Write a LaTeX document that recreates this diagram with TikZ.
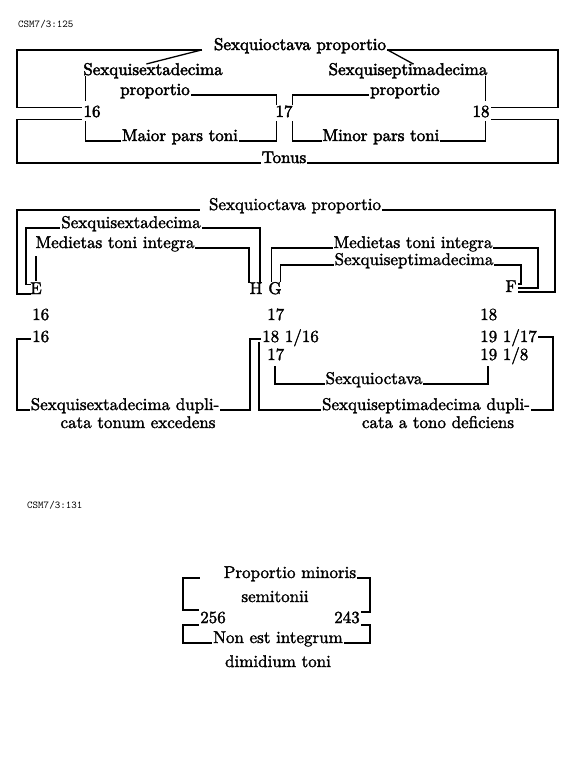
\documentclass[tikz,border=0pt]{standalone}
\usepackage{fontspec}
\newfontface\heavyA{lmroman10-regular.otf}[FakeBold=2.6]
\newfontface\heavyB{lmroman10-regular.otf}[FakeBold=1.8]
\usetikzlibrary{calc}
\tikzset{
  txt/.style={inner xsep=1.5pt, inner ysep=1pt, anchor=base, font=\heavyB\fontsize{17}{20}\selectfont},
  txta/.style={txt, font=\heavyA\fontsize{17}{20}\selectfont},
  num/.style={txt, anchor=base west},
  tag/.style={inner sep=0pt, anchor=base west, font=\ttfamily\fontsize{10.5}{12}\selectfont},
  ln/.style={line width=1.3pt, line cap=rect}
}
\begin{document}
\begin{tikzpicture}[x=1pt,y=-1pt]
\useasboundingbox (0,0) rectangle (584,776);
% column coordinates
\coordinate (xL) at (17,0);
\coordinate (xR) at (558,0);
\coordinate (xR2) at (555,0);
\coordinate (xM) at (538,0);
\coordinate (xI) at (521,0);
\coordinate (xL2) at (26,0);
\coordinate (xA) at (250,0);
\coordinate (xB) at (259,0);
\coordinate (xR3) at (553,0);
\coordinate (xL3) at (183,0);
\coordinate (xR4) at (370,0);

% ---------------- section 1 ----------------
\node[tag] (c1) at (18,28) {CSM7/3:125};
\node[txta] (soq) at (300,50) {Sexquioctava proportio};
\node[txta] (sd1) at (153,75) {Sexquisextadecima};
\node[txta] (pr1) at (155,95) {proportio};
\node[txta] (ss1) at (408,75) {Sexquiseptimadecima};
\node[txta] (pr2) at (405,95) {proportio};
\node[txta] (a16) at (92,117) {16};
\node[txta] (a17) at (284,117) {17};
\node[txta] (a18) at (481,117) {18};
\node[txta] (maior) at (180,141) {Maior pars toni};
\node[txta] (minor) at (381,141) {Minor pars toni};
\node[txta] (tonus) at (284,163) {Tonus};

\draw[ln] ($(soq.base west)+(-11,0)$) -- (soq.base west -| xL) |- ($(a16.west)+(0,-4)$);
\draw[ln] ($(soq.base west)+(-11,0)$) -- ($(sd1.north)+(-6,2)$);
\draw[ln] (soq.base east) -- (soq.base east -| xR) |- ($(a18.east)+(0,-4)$);
\draw[ln] (soq.base east) -- ($(ss1.north)+(5,2)$);
\draw[ln] (tonus.base west) -- (tonus.base west -| xL) |- ($(a16.south west)+(0,1)$);
\draw[ln] (tonus.base east) -- (tonus.base east -| xR) |- ($(a18.south east)+(0,1)$);
\draw[ln] ($(a16.north west |- sd1.base)+(4,2)$) -- ($(a16.north west)+(4,-4)$);
\draw[ln] (pr1.base east) -| ($(a17.north west)+(3,0)$);
\draw[ln] (pr2.base west) -| ($(a17.north east)+(-2,0)$);
\draw[ln] ($(a18.north east |- ss1.base)+(-6,2)$) -- ($(a18.north east)+(-6,-4)$);
\draw[ln] (maior.base west) -| ($(a16.south west)+(4,3)$);
\draw[ln] (maior.base east) -| ($(a17.south west)+(3,3)$);
\draw[ln] (minor.base west) -| ($(a17.south east)+(-2,3)$);
\draw[ln] (minor.base east) -| ($(a18.south east)+(-6,3)$);

% ---------------- section 2 ----------------
\node[txt] (soq2) at (295,210) {Sexquioctava proportio};
\node[txt] (sd2) at (131,228) {Sexquisextadecima};
\node[txt] (med1) at (115,248) {Medietas toni integra};
\node[txt] (med2) at (413,248) {Medietas toni integra};
\node[txt] (ss2) at (414,265) {Sexquiseptimadecima};
\node[txt] (E) at (36,294) {E};
\node[txt] (H) at (256,294) {H};
\node[txt] (G) at (275,294) {G};
\node[txt] (F) at (511,292) {F};

\draw[ln] ($(soq2.base west)+(-8,0)$) -- (soq2.base west -| xL) |- ($(E.base west)+(1.5,0)$);
\draw[ln] (soq2.base east) -- (soq2.base east -| xR2) |- (F.base east);
\draw[ln] (sd2.base west) -- (sd2.base west -| xL2) |- ($(E.north west)+(1.5,3)$);
\draw[ln] (sd2.base east) -| ($(H.north east)+(-4,1)$);
\draw[ln] ($(E.north |- med1.base)+(0,9)$) -- ($(E.north)+(0,-1)$);
\draw[ln] (med1.base east) -| ($(H.north west)+(1,1)$);
\draw[ln] (med2.base west) -| ($(G.north west)+(5,1)$);
\draw[ln] (med2.base east) -- (med2.base east -| xM) |- ($(F.base east)+(0,-4)$);
\draw[ln] (ss2.base west) -| ($(G.north west)+(14,1)$);
\draw[ln] (ss2.base east) -- (ss2.base east -| xI) |- ($(F.base east)+(0,-8)$);

\node[num] (b16) at (30.5,320) {16};
\node[num] (b17) at (265.5,320) {17};
\node[num] (b18) at (478.5,320) {18};
\node[num] (c16) at (30.5,342) {16};
\node[num] (c18) at (260.5,342) {18 1/16};
\node[num] (c19) at (478.5,342) {19 1/17};
\node[num] (d17) at (265.5,360) {17};
\node[num] (d19) at (478.5,360) {19 1/8};
\node[txt] (soq3) at (374,384) {Sexquioctava};
\node[txt] (sdd) at (125,410) {Sexquisextadecima dupli-};
\node[txt] (cte) at (138,428) {cata tonum excedens};
\node[txt] (ssd) at (426,410) {Sexquiseptimadecima dupli-};
\node[txt] (catd) at (438,428) {cata a tono deficiens};

\draw[ln] ($(c16.base west)+(0,-3)$) -- ($(c16.base west -| xL)+(0,-3)$) |- (sdd.base west);
\draw[ln] (sdd.base east) -- (sdd.base east -| xA) |- ($(c18.base west)+(0,-3)$);
\draw[ln] (ssd.base west) -- (ssd.base west -| xB) -- ($(c18.base west -| xB)+(0,1)$);
\draw[ln] (ssd.base east) -- (ssd.base east -| xR3) |- ($(c19.base east)+(0,-5)$);
\draw[ln] (soq3.base west) -| ($(d17.base west)+(9.5,7)$);
\draw[ln] (soq3.base east) -| ($(d19.base west)+(9.5,7)$);

% ---------------- section 3 ----------------
\node[tag] (c2) at (27,508) {CSM7/3:131};
\node[txt] (pm) at (290,578) {Proportio minoris};
\node[txt] (semi) at (275,602) {semitonii};
\node[txt] (n256) at (213,623) {256};
\node[txt] (n243) at (347,623) {243};
\node[txt] (nei) at (278,643) {Non est integrum};
\node[txt] (dim) at (278,667) {dimidium toni};

\draw[ln] ($(pm.base west)+(-23,0)$) -- (pm.base west -| xL3) |- ($(n256.base west)+(0,-13)$);
\draw[ln] (pm.base east) -- (pm.base east -| xR4) |- ($(n243.base east)+(0,-11)$);
\draw[ln] ($(n256.base west)+(0,2)$) -- ($(n256.base west -| xL3)+(0,2)$) |- (nei.base west);
\draw[ln] (nei.base east) -- (nei.base east -| xR4) |- ($(n243.base east)+(0,2)$);
\end{tikzpicture}
\end{document}
